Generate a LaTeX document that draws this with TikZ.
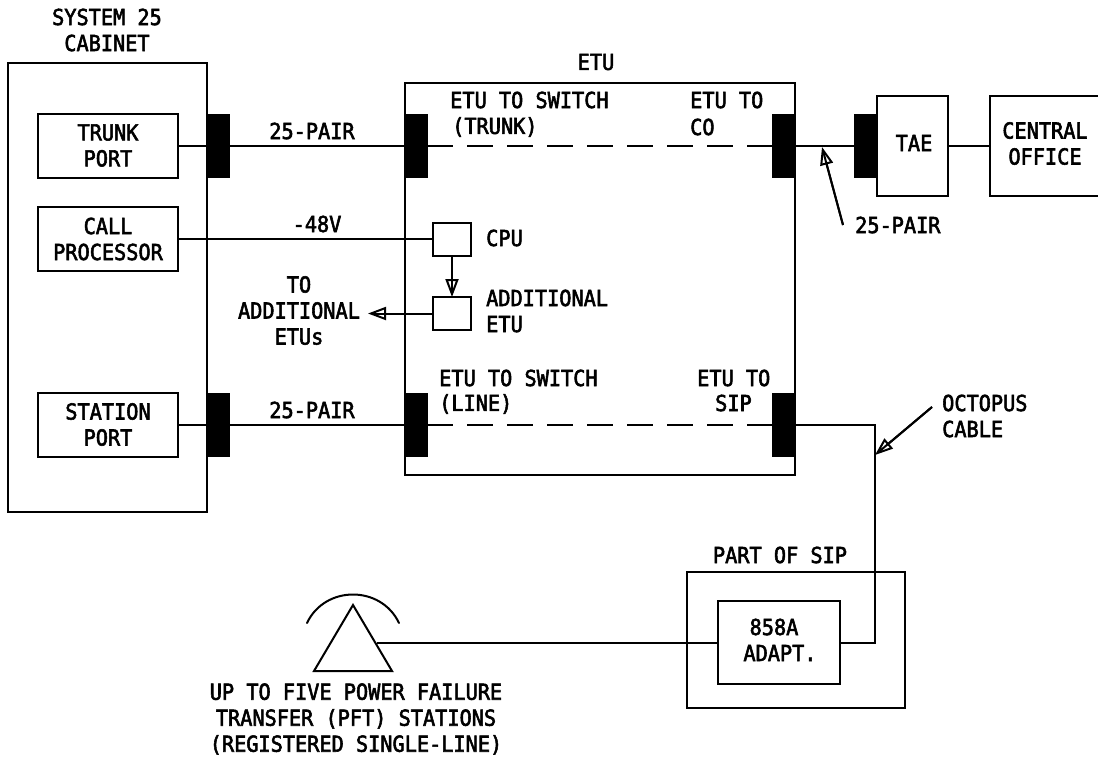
\documentclass[tikz,border=0pt]{standalone}
\usepackage{fontspec}
\setmainfont[FakeBold=2.5,FakeStretch=0.92]{DejaVu Sans Mono}
\usetikzlibrary{arrows.meta}
\tikzset{
  ln/.style={line width=2pt,line join=miter},
  txt/.style={font=\fontsize{22}{26}\selectfont},
  boxn/.style={draw,ln,fill=white,inner sep=0pt,outer sep=0pt,align=center,txt},
  jack/.style={fill=black,draw=none,inner sep=0pt,outer sep=0pt,minimum width=23pt,minimum height=64pt},
  lbl/.style={inner sep=0pt,align=center,txt},
  lbll/.style={lbl,align=left,anchor=west},
  openarrow/.style={-{Triangle[open,length=18pt,width=13pt,line width=2pt]},postaction={draw,-,shorten >=6pt}},
  dashline/.style={dash pattern=on 26pt off 14pt,dash phase=1pt}
}
\begin{document}
\begin{tikzpicture}[x=1pt,y=-1pt]
\useasboundingbox (0,0) rectangle (1098,761);
% main boxes
\node[boxn,minimum width=199pt,minimum height=449pt] (cab) at (107.5,287.5) {};
\node[boxn,minimum width=390pt,minimum height=392pt] (etu) at (600,279) {};
\node[boxn,minimum width=140pt,minimum height=64pt] (trunk) at (108,145.5) {TRUNK\\PORT};
\node[boxn,minimum width=140pt,minimum height=64pt] (call) at (108,239) {CALL\\PROCESSOR};
\node[boxn,minimum width=140pt,minimum height=64pt] (station) at (108,424.5) {STATION\\PORT};
\node[boxn,minimum width=71pt,minimum height=100pt] (tae) at (912.5,145.5) {};
\node[lbl] (taetext) at (914,143) {TAE};
\node[boxn,minimum width=130pt,minimum height=100pt] (co) at (1055,145.5) {};
\node[lbl] (cotext) at (1045,143.5) {CENTRAL\\OFFICE};
\node[boxn,minimum width=38pt,minimum height=33pt] (cpu) at (452,239) {};
\node[boxn,minimum width=38pt,minimum height=33pt] (add) at (452,313.5) {};
\node[boxn,minimum width=218pt,minimum height=136pt] (sip) at (796,640) {};
% jacks
\node[jack] (j1) at (218.5,145.5) {};
\node[jack] (j2) at (218.5,424.5) {};
\node[jack] (j3) at (416.5,145.5) {};
\node[jack] (j4) at (416.5,424.5) {};
\node[jack] (j5) at (783.5,145.5) {};
\node[jack] (j6) at (783.5,424.5) {};
\node[jack] (j7) at (865.5,145.5) {};
% adapter
\node[boxn,minimum width=122pt,minimum height=83pt] (adapt) at (779,642.5) {};
\node[lbl] (adtext1) at (774,627) {858A};
\node[lbl] (adtext2) at (780,653) {ADAPT.};
% connectors
\draw[ln] (trunk.east) -- (j1.west);
\draw[ln] (call.east) -- (cpu.west);
\draw[ln] (station.east) -- (j2.west);
\draw[ln] (j1.east) -- (j3.west);
\draw[ln] (j2.east) -- (j4.west);
\draw[ln,dashline] (j3.east) -- (j5.west);
\draw[ln,dashline] (j4.east) -- (j6.west);
\draw[ln] (j5.east) -- (j7.west);
\draw[ln] (tae.east) -- (co.west);
\draw[ln,openarrow] (cpu.south) -- (add.north);
\coordinate (addtip) at (368,313.5);
\draw[ln,openarrow] (add.west) -- (addtip);
\coordinate (octo) at (875,424.5);
\coordinate (octob) at (875,642.5);
\draw[ln] (j6.east) -- (octo) -- (octob) -- (adapt.east);
% station antenna
\coordinate (apex) at (353,605);
\coordinate (bl) at (314,671);
\coordinate (br) at (392,671);
\coordinate (tri) at (376.5,642.5);
\draw[ln] (apex) -- (bl) -- (br) -- cycle;
\draw[ln] (tri) -- (adapt.west);
\coordinate (arcl) at (307,623);
\coordinate (arcr) at (399,623);
\draw[ln,line cap=round] (arcl) .. controls (325,585) and (381,585) .. (arcr);
% leaders
\coordinate (t1) at (843,225);
\coordinate (h1) at (822,147);
\draw[ln,openarrow] (t1) -- (h1);
\coordinate (t2) at (932,407);
\coordinate (h2) at (875,455);
\draw[ln,openarrow] (t2) -- (h2);
% labels
\node[lbl] (l1) at (107,30) {SYSTEM 25\\CABINET};
\node[lbl] (l2) at (596,62) {ETU};
\node[lbl] (l3) at (312,131) {25-PAIR};
\node[lbl] (l4) at (312,410) {25-PAIR};
\node[lbl] (l5) at (317,224) {-48V};
\node[lbll] (l6) at (450,100) {ETU TO SWITCH};
\node[lbll] (l7) at (452,127) {(TRUNK)};
\node[lbll] (l8) at (690,100) {ETU TO};
\node[lbll] (l9) at (690,127) {CO};
\node[lbll] (l10) at (439,378) {ETU TO SWITCH};
\node[lbll] (l11) at (439,404) {(LINE)};
\node[lbll] (l12) at (697,378) {ETU TO};
\node[lbll] (l13) at (715,403) {SIP};
\node[lbl,anchor=west] (l14) at (855,225) {25-PAIR};
\node[lbll] (l15) at (942,416) {OCTOPUS\\CABLE};
\node[lbll] (l16) at (486,238) {CPU};
\node[lbll] (l17) at (486,311) {ADDITIONAL\\ETU};
\node[lbl] (l18) at (299,310.5) {TO\\ADDITIONAL\\ETUs};
\node[lbl] (l19) at (780,555) {PART OF SIP};
\node[lbl] (l20) at (356,719) {UP TO FIVE POWER FAILURE\\TRANSFER (PFT) STATIONS\\(REGISTERED SINGLE-LINE)};
\end{tikzpicture}
\end{document}
